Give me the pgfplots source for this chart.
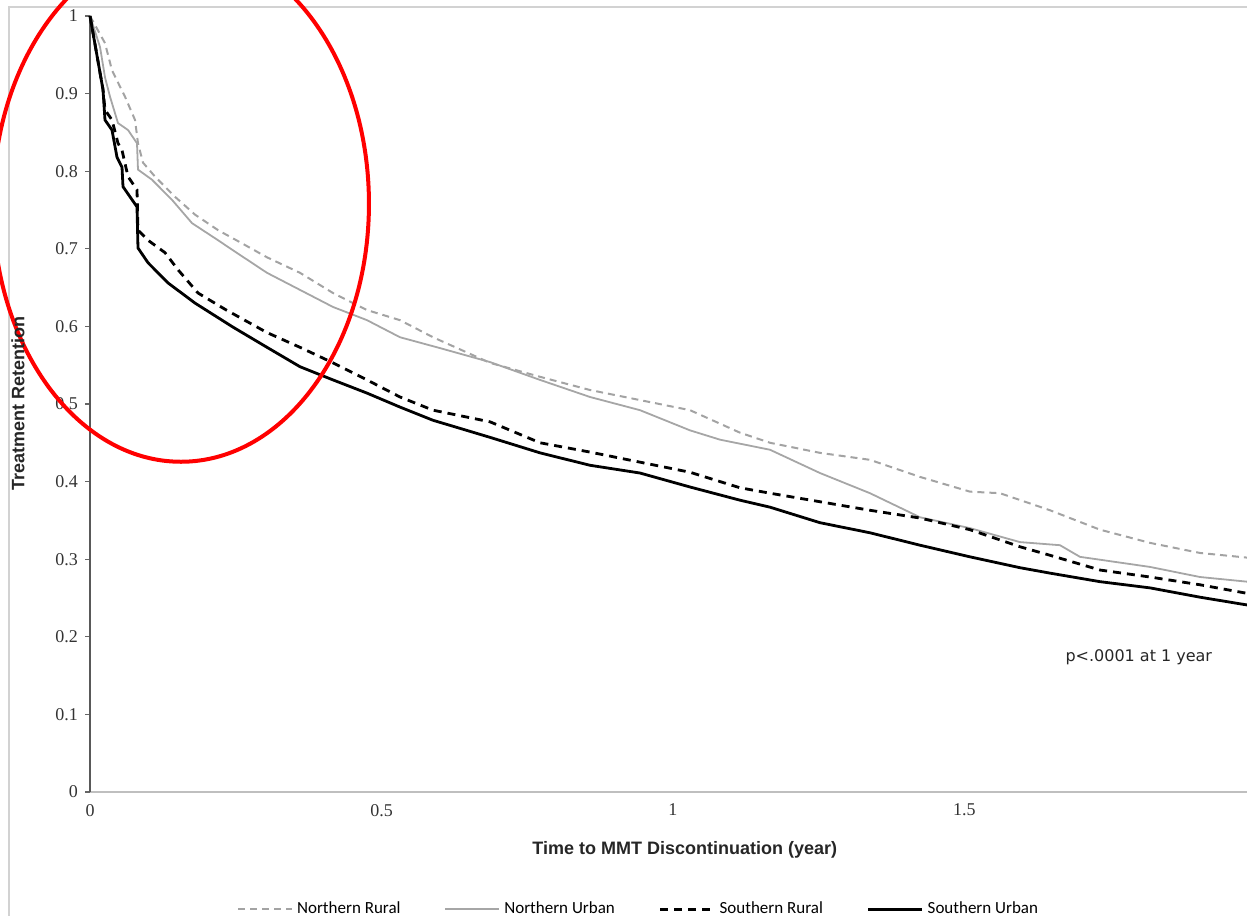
\documentclass[border=0pt]{standalone}
\usepackage{fontspec}
\setmainfont{Liberation Sans}
\newfontfamily\tickfont{Liberation Serif}
\newfontfamily\legfont{Carlito}
\newfontfamily\dvfont{DejaVu Sans}
\usepackage{pgfplots}
\pgfplotsset{compat=1.18}
\begin{document}
\begin{tikzpicture}
\begin{axis}[
  scale only axis,
  width=578.5pt, height=388pt,
  xmin=0, xmax=1.9846, ymin=0, ymax=1,
  clip=false,
  axis x line=bottom, axis y line=left,
  axis line style={-},
  x axis line style={draw=gray!50, line width=1pt},
  y axis line style={draw=black!65, line width=1.1pt},
  xtick={0,0.5,1,1.5}, xticklabels={0,0.5,1,1.5},
  ytick={0,0.1,0.2,0.3,0.4,0.5,0.6,0.7,0.8,0.9,1},
  yticklabels={0,0.1,0.2,0.3,0.4,0.5,0.6,0.7,0.8,0.9,1},
  xtick style={draw=none},
  ytick style={draw=black!60, line width=0.6pt},
  tick align=outside, major tick length=2.5pt,
  tick label style={font=\tickfont\fontsize{9}{10}\selectfont, text=black!80},
  xlabel={\textbf{Time to MMT Discontinuation (year)}},
  ylabel={\textbf{Treatment Retention}},
  label style={font=\fontsize{9}{11}\selectfont, text=black!85},
  xlabel style={at={(axis description cs:0.514,-0.0747)}, anchor=center},
  ylabel style={at={(axis description cs:-0.0622,0.5)}, anchor=center, rotate=0},
  legend columns=4,
  legend cell align=left,
  legend style={draw=none, fill=none, at={(0.475,-0.151)}, anchor=center,
    font=\legfont\fontsize{8.5}{10}\selectfont,
    /tikz/every even column/.append style={column sep=20pt}},
  legend image code/.code={\draw[#1] (0pt,0pt) -- (27pt,0pt);},
]
\addplot[draw=gray!72, line width=1pt, dash pattern=on 3.5pt off 2.5pt] coordinates {
(0,1) (0.0257,0.965) (0.0377,0.930) (0.0600,0.896) (0.0772,0.866) (0.0823,0.836)
(0.0909,0.811) (0.1115,0.793) (0.1458,0.767) (0.1801,0.744) (0.2196,0.724)
(0.2607,0.707) (0.3036,0.689) (0.3602,0.669) (0.4168,0.643) (0.4751,0.621)
(0.5317,0.608) (0.5883,0.586) (0.6861,0.553) (0.7719,0.535) (0.8576,0.518)
(0.9434,0.505) (1.0292,0.492) (1.1149,0.463) (1.1664,0.450) (1.2521,0.437)
(1.3379,0.428) (1.4237,0.406) (1.5094,0.387) (1.5609,0.385) (1.6467,0.363)
(1.7324,0.338) (1.8182,0.321) (1.9039,0.308) (1.9846,0.302)};
\addlegendentry{Northern Rural}
\addplot[draw=gray!70, line width=0.9pt] coordinates {
(0,1) (0.0172,0.96) (0.0257,0.921) (0.0343,0.896) (0.0480,0.862) (0.0652,0.853)
(0.0806,0.836) (0.0823,0.802) (0.1063,0.789) (0.1407,0.763) (0.1750,0.733)
(0.2196,0.711) (0.2453,0.698) (0.3036,0.669) (0.3602,0.647) (0.4168,0.625)
(0.4751,0.608) (0.5317,0.586) (0.6003,0.572) (0.6861,0.554) (0.7719,0.531)
(0.8576,0.509) (0.9434,0.492) (1.0292,0.466) (1.0806,0.454) (1.1664,0.441)
(1.2521,0.411) (1.3379,0.385) (1.4237,0.354) (1.5094,0.340) (1.5952,0.322)
(1.6638,0.318) (1.6981,0.303) (1.8182,0.290) (1.9039,0.277) (1.9846,0.271)};
\addlegendentry{Northern Urban}
\addplot[draw=black, line width=1.4pt, dash pattern=on 4pt off 3pt] coordinates {
(0,1) (0.0223,0.905) (0.0257,0.879) (0.0377,0.866) (0.0480,0.836) (0.0549,0.827)
(0.0652,0.793) (0.0806,0.776) (0.0823,0.724) (0.0995,0.711) (0.1286,0.695)
(0.1509,0.673) (0.1852,0.643) (0.2316,0.622) (0.3036,0.592) (0.3602,0.573)
(0.4168,0.553) (0.4751,0.531) (0.5317,0.509) (0.5883,0.492) (0.6861,0.477)
(0.7719,0.450) (0.8576,0.438) (0.9434,0.425) (1.0292,0.412) (1.1149,0.392)
(1.1664,0.385) (1.2521,0.374) (1.3379,0.363) (1.4237,0.353) (1.5094,0.338)
(1.5952,0.316) (1.6467,0.305) (1.7324,0.286) (1.8182,0.277) (1.9039,0.267)
(1.9846,0.256)};
\addlegendentry{Southern Rural}
\addplot[draw=black, line width=1.4pt] coordinates {
(0,1) (0.0223,0.905) (0.0257,0.866) (0.0377,0.853) (0.0463,0.818) (0.0549,0.805)
(0.0566,0.780) (0.0686,0.767) (0.0806,0.754) (0.0823,0.701) (0.0995,0.682)
(0.1338,0.656) (0.1801,0.630) (0.2453,0.599) (0.3036,0.573) (0.3602,0.548)
(0.4168,0.531) (0.4751,0.514) (0.5317,0.496) (0.5883,0.479) (0.6861,0.457)
(0.7719,0.437) (0.8576,0.421) (0.9434,0.411) (1.0292,0.393) (1.1149,0.376)
(1.1664,0.367) (1.2521,0.347) (1.3379,0.334) (1.4237,0.318) (1.5094,0.303)
(1.5952,0.289) (1.6467,0.282) (1.7324,0.271) (1.8182,0.263) (1.9039,0.251)
(1.9846,0.241)};
\addlegendentry{Southern Urban}
\node[font=\dvfont\fontsize{8}{10}\selectfont, text=black!85] at (axis cs:1.799,0.174) {p<.0001 at 1 year};
\draw[overlay, gray!35, line width=0.6pt] (axis cs:-0.139,-0.4) rectangle (axis cs:2.2,1.0116);
\draw[overlay, red, line width=2pt] (axis cs:0.156,0.758) ellipse [x radius=94pt, y radius=129pt];
\coordinate (bbll) at (axis cs:-0.1544,-0.1598);
\coordinate (bbur) at (axis cs:1.9846,1.0206);
\end{axis}
\pgfresetboundingbox
\useasboundingbox (bbll) rectangle (bbur);
\end{tikzpicture}
\end{document}
